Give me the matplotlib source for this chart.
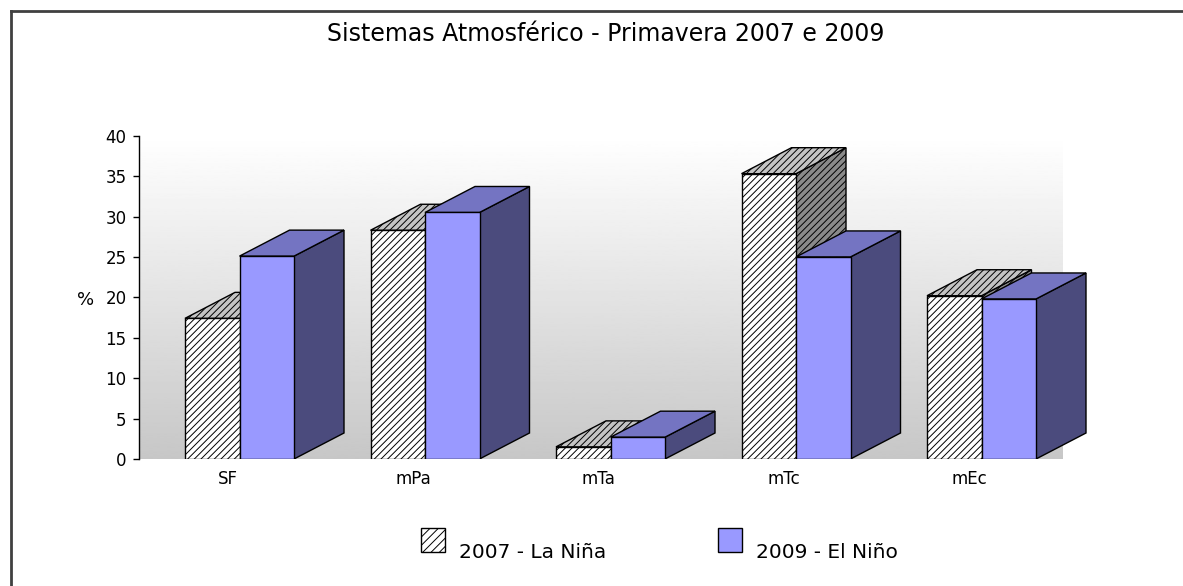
import matplotlib
matplotlib.use('agg')
import matplotlib.pyplot as plt
from matplotlib.patches import Polygon, Rectangle
from matplotlib.lines import Line2D
import numpy as np

plt.rcParams['font.family'] = ['DejaVu Sans']
plt.rcParams['hatch.linewidth'] = 0.7

categories = ['SF', 'mPa', 'mTa', 'mTc', 'mEc']
la_nina_2007 = [17.4, 28.3, 1.5, 35.3, 20.2]
el_nino_2009 = [25.1, 30.5, 2.7, 25.0, 19.8]
y_ticks = [0, 5, 10, 15, 20, 25, 30, 35, 40]
title = 'Sistemas Atmosférico - Primavera 2007 e 2009'
series_names = ['2007 - La Niña', '2009 - El Niño']

W, H = 1183, 586
fig = plt.figure(figsize=(W / 100, H / 100), dpi=100)

# axes placed in pixels: y axis at x=139, 0 at y=459, 40 at y=136
ax_left, ax_right = 139, 1100
ax_bot, ax_top = 459, 135.7
ax = fig.add_axes([ax_left / W, 1 - ax_bot / H,
                   (ax_right - ax_left) / W, (ax_bot - ax_top) / H])

px_per_group = 185.5
px_per_unit = (ax_bot - ax_top) / 40
xmin = (ax_left - 239.5) / px_per_group
xmax = (ax_right - 239.5) / px_per_group
ax.set_xlim(xmin, xmax)
ax.set_ylim(0, 40)

# back wall gradient
wall_right = (1063 - 239.5) / px_per_group
grad = np.linspace(0.78, 1.0, 256).reshape(-1, 1)
ax.imshow(grad, extent=[xmin, wall_right, 0, 40], origin='lower',
          cmap='gray', vmin=0, vmax=1, aspect='auto', zorder=0)

bw = 54.5 / px_per_group     # bar width
dx = 50 / px_per_group       # depth offset
dy = 26 / px_per_unit


def bar3d(x0, h, front, top, side, hatch, z):
    side_pts = [(x0 + bw, 0), (x0 + bw + dx, dy), (x0 + bw + dx, h + dy), (x0 + bw, h)]
    top_pts = [(x0, h), (x0 + bw, h), (x0 + bw + dx, h + dy), (x0 + dx, h + dy)]
    ax.add_patch(Polygon(side_pts, closed=True, facecolor=side, edgecolor='black',
                         lw=1.0, hatch=hatch, zorder=z))
    ax.add_patch(Polygon(top_pts, closed=True, facecolor=top, edgecolor='black',
                         lw=1.0, hatch=hatch, zorder=z))
    ax.add_patch(Rectangle((x0, 0), bw, h, facecolor=front, edgecolor='black',
                           lw=1.0, hatch=hatch, zorder=z))


x = np.arange(len(categories))
for i in range(len(categories)):
    bar3d(x[i] - bw, la_nina_2007[i], 'white', '#c4c4c4', '#8a8a8a', '/////', 2 + 2 * i)
    bar3d(x[i], el_nino_2009[i], '#9999ff', '#7474c2', '#4b4b7d', None, 3 + 2 * i)

ax.set_yticks(y_ticks)
ax.set_xticks(x - 0.065)
ax.set_xticklabels(categories)
ax.tick_params(axis='x', length=0, pad=8, labelsize=12)
ax.tick_params(axis='y', length=4, width=1, pad=5, labelsize=12)
for s in ['top', 'right', 'bottom']:
    ax.spines[s].set_visible(False)
ax.spines['left'].set_linewidth(1.0)
ax.set_ylabel('%', rotation=0, fontsize=13)
ax.yaxis.set_label_coords((86 - ax_left) / (ax_right - ax_left), (ax_bot - 300) / (ax_bot - ax_top))
ax.yaxis.label.set_va('center')
ax.yaxis.label.set_ha('center')

fig.text(605.5 / W, 1 - 41 / H, title, ha='center', va='baseline', fontsize=17)

# legend
fig.add_artist(Rectangle((421 / W, 1 - 552 / H), 24 / W, 24 / H, transform=fig.transFigure,
                         facecolor='white', edgecolor='black', lw=1.0, hatch='////'))
fig.text(459 / W, 1 - 558 / H, series_names[0], ha='left', va='baseline', fontsize=14.5)
fig.add_artist(Rectangle((718 / W, 1 - 552 / H), 24 / W, 24 / H, transform=fig.transFigure,
                         facecolor='#9999ff', edgecolor='black', lw=1.0))
fig.text(756 / W, 1 - 558 / H, series_names[1], ha='left', va='baseline', fontsize=14.5)

# chart frame (left and top edges)
fig.add_artist(Line2D([11 / W, 11 / W], [0, 1 - 11 / H], transform=fig.transFigure,
                      color='#404040', lw=2))
fig.add_artist(Line2D([11 / W, 1], [1 - 11 / H, 1 - 11 / H], transform=fig.transFigure,
                      color='#404040', lw=2))

fig.savefig('out.png', dpi=100)
